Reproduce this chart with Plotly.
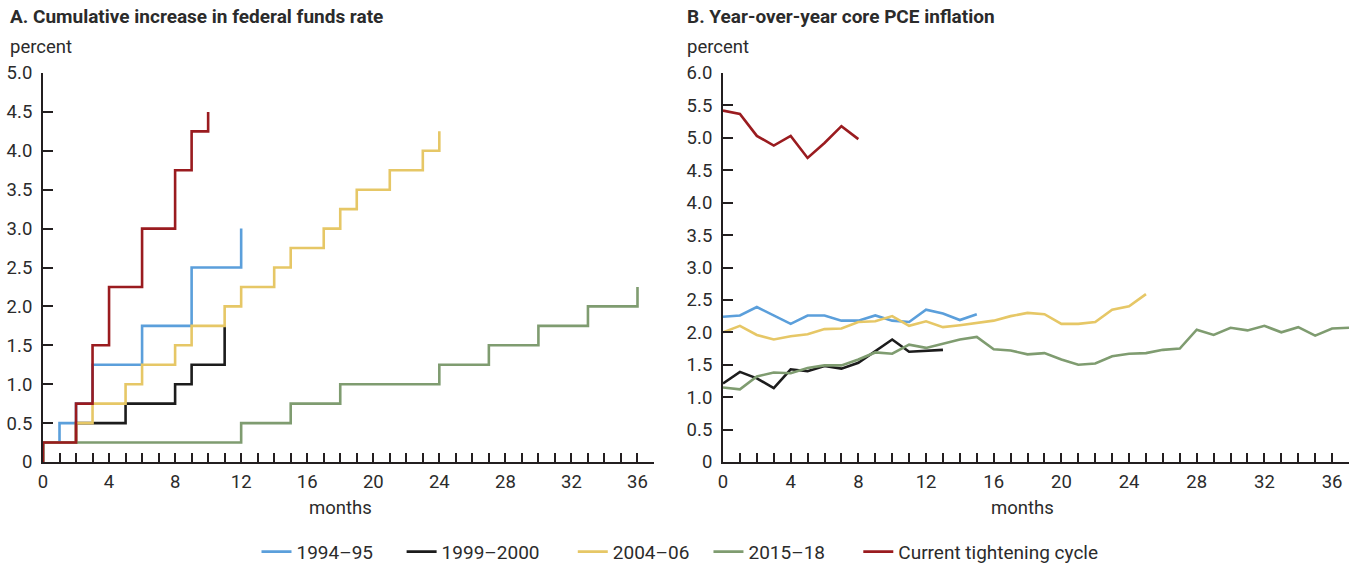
import plotly.graph_objects as go

# ---------------- data ----------------
# Panel A: cumulative increase in federal funds rate (percent), by month of cycle
ffr_months_9495 = list(range(0, 13))
ffr_9495 = [0.25, 0.5, 0.75, 1.25, 1.25, 1.25, 1.75, 1.75, 1.75, 2.5, 2.5, 2.5, 3.0]
ffr_months_9900 = list(range(0, 12))
ffr_9900 = [0.25, 0.25, 0.5, 0.5, 0.5, 0.75, 0.75, 0.75, 1.0, 1.25, 1.25, 1.75]
ffr_months_0406 = list(range(0, 25))
ffr_0406 = [0.25, 0.25, 0.5, 0.75, 0.75, 1.0, 1.25, 1.25, 1.5, 1.75, 1.75, 2.0, 2.25,
            2.25, 2.5, 2.75, 2.75, 3.0, 3.25, 3.5, 3.5, 3.75, 3.75, 4.0, 4.25]
ffr_months_1518 = list(range(0, 37))
ffr_1518 = [0.25] * 12 + [0.5] * 3 + [0.75] * 3 + [1.0] * 6 + [1.25] * 3 + [1.5] * 3 + [1.75] * 3 + [2.0] * 3 + [2.25]
ffr_months_cur = list(range(0, 11))
ffr_cur = [0.25, 0.25, 0.75, 1.5, 2.25, 2.25, 3.0, 3.0, 3.75, 4.25, 4.5]

# Panel B: year-over-year core PCE inflation (percent)
pce_months_9495 = list(range(0, 16))
pce_9495 = [2.24, 2.26, 2.39, 2.26, 2.13, 2.26, 2.26, 2.18, 2.18, 2.26, 2.18, 2.16, 2.35, 2.29, 2.19, 2.28]
pce_months_9900 = list(range(0, 14))
pce_9900 = [1.21, 1.39, 1.29, 1.14, 1.43, 1.40, 1.48, 1.44, 1.53, 1.71, 1.89, 1.70, 1.71, 1.73]
pce_months_0406 = list(range(0, 26))
pce_0406 = [2.00, 2.10, 1.96, 1.89, 1.94, 1.97, 2.05, 2.06, 2.16, 2.17, 2.25, 2.10, 2.17,
            2.08, 2.11, 2.15, 2.18, 2.25, 2.30, 2.28, 2.13, 2.13, 2.16, 2.35, 2.40, 2.59]
pce_months_1518 = list(range(0, 38))
pce_1518 = [1.15, 1.12, 1.32, 1.38, 1.37, 1.45, 1.49, 1.49, 1.58, 1.69, 1.67, 1.81, 1.76,
            1.83, 1.89, 1.93, 1.74, 1.72, 1.66, 1.68, 1.58, 1.50, 1.52, 1.63, 1.67, 1.68,
            1.73, 1.75, 2.04, 1.96, 2.07, 2.03, 2.10, 2.00, 2.08, 1.95, 2.06, 2.07]
pce_months_cur = list(range(0, 9))
pce_cur = [5.42, 5.37, 5.03, 4.88, 5.03, 4.69, 4.92, 5.18, 4.98]

series_names = ["1994\u201395", "1999\u20132000", "2004\u201306", "2015\u201318", "Current tightening cycle"]
series_colors = ["#5b9fdb", "#1c1c1c", "#e6c766", "#7f9c70", "#9a1b1f"]
legend_pad = [5, 6, 3, 6, 0]  # trailing spacing after each legend label

x_tick_vals = list(range(0, 37, 4))
yA_tick_vals = [i * 0.5 for i in range(11)]
yB_tick_vals = [i * 0.5 for i in range(13)]

# ---------------- figure ----------------
FONT = "Roboto"
TXT = "#2b2b2b"
AX = "#231f20"
FS = 18.5

ffr_sets = [(ffr_months_9495, ffr_9495), (ffr_months_9900, ffr_9900), (ffr_months_0406, ffr_0406),
            (ffr_months_1518, ffr_1518), (ffr_months_cur, ffr_cur)]
pce_sets = [(pce_months_9495, pce_9495), (pce_months_9900, pce_9900), (pce_months_0406, pce_0406),
            (pce_months_1518, pce_1518), (pce_months_cur, pce_cur)]

fig = go.Figure()
for name, col, pad, (mx, vals) in zip(series_names, series_colors, legend_pad, ffr_sets):
    # cycles start from a zero baseline at month 0
    fig.add_trace(go.Scatter(x=[mx[0]] + mx, y=[0] + vals, mode="lines",
                             name=name + "\u00a0" * pad,
                             line=dict(color=col, width=2.6, shape="hv"),
                             xaxis="x", yaxis="y", showlegend=True, legendgroup=name,
                             hoverinfo="skip"))
for name, col, (mx, vals) in zip(series_names, series_colors, pce_sets):
    fig.add_trace(go.Scatter(x=mx, y=vals, mode="lines", name=name,
                             line=dict(color=col, width=2.6),
                             xaxis="x2", yaxis="y2", showlegend=False, legendgroup=name,
                             hoverinfo="skip"))

W, H = 1351, 563
ml, mr, mt, mb = 43, 2, 73, 101
pw = W - ml - mr
ph = H - mt - mb


def px_x(p):
    return (p - ml) / pw


def px_y(p):
    return (H - mb - p) / ph


xaxis_common = dict(range=[0, 37], tickvals=x_tick_vals, ticks="inside", ticklen=9, tickwidth=2,
                    tickcolor=AX, showline=True, linecolor=AX, linewidth=2, showgrid=False,
                    zeroline=False, tickfont=dict(family=FONT, size=FS, color=TXT),
                    minor=dict(dtick=1, tick0=0, ticks="inside", ticklen=9, tickwidth=2, tickcolor=AX),
                    ticklabelstandoff=2, fixedrange=True)
yaxis_common = dict(ticks="inside", ticklen=10, tickwidth=2, tickcolor=AX, showline=True,
                    linecolor=AX, linewidth=2, showgrid=False, zeroline=False,
                    tickfont=dict(family=FONT, size=FS, color=TXT), ticklabelstandoff=5,
                    fixedrange=True)

fig.update_layout(
    width=W, height=H,
    margin=dict(l=ml, r=mr, t=mt, b=mb, pad=0),
    paper_bgcolor="white", plot_bgcolor="white",
    font=dict(family=FONT, color=TXT, size=FS),
    xaxis=dict(domain=[0, px_x(654)], anchor="y", **xaxis_common),
    yaxis=dict(domain=[0, 1], anchor="x", range=[0, 5], tickvals=yA_tick_vals,
               ticktext=["0" if v == 0 else f"{v:.1f}" for v in yA_tick_vals], **yaxis_common),
    xaxis2=dict(domain=[px_x(723), 1], anchor="y2", **xaxis_common),
    yaxis2=dict(domain=[0, 1], anchor="x2", range=[0, 6], tickvals=yB_tick_vals,
                ticktext=["0" if v == 0 else f"{v:.1f}" for v in yB_tick_vals], **yaxis_common),
    legend=dict(orientation="h", xref="container", yref="container", x=680 / W, y=0.02,
                xanchor="center", yanchor="middle", font=dict(family=FONT, size=19, color=TXT),
                itemwidth=30, tracegroupgap=0, bgcolor="rgba(0,0,0,0)"),
    showlegend=True,
)

annots = [
    dict(text="<b>A. Cumulative increase in federal funds rate</b>", x=px_x(8), y=px_y(17), size=19),
    dict(text="<b>B. Year-over-year core PCE inflation</b>", x=px_x(685), y=px_y(17), size=19),
    dict(text="percent", x=px_x(8), y=px_y(47), size=FS),
    dict(text="percent", x=px_x(685), y=px_y(47), size=FS),
]
for a in annots:
    sz = a.pop("size")
    fig.add_annotation(xref="paper", yref="paper", xanchor="left", yanchor="middle",
                       showarrow=False, font=dict(family=FONT, size=sz, color=TXT), **a)
fig.add_annotation(text="months", xref="x", yref="paper", x=18, y=px_y(508), xanchor="center",
                   yanchor="middle", showarrow=False, font=dict(family=FONT, size=FS, color=TXT))
fig.add_annotation(text="months", xref="x2", yref="paper", x=17.7, y=px_y(508), xanchor="center",
                   yanchor="middle", showarrow=False, font=dict(family=FONT, size=FS, color=TXT))

fig.write_html("out.html", config={"displayModeBar": False},
               post_script="document.body.style.margin='0';document.body.style.overflow='hidden';")
